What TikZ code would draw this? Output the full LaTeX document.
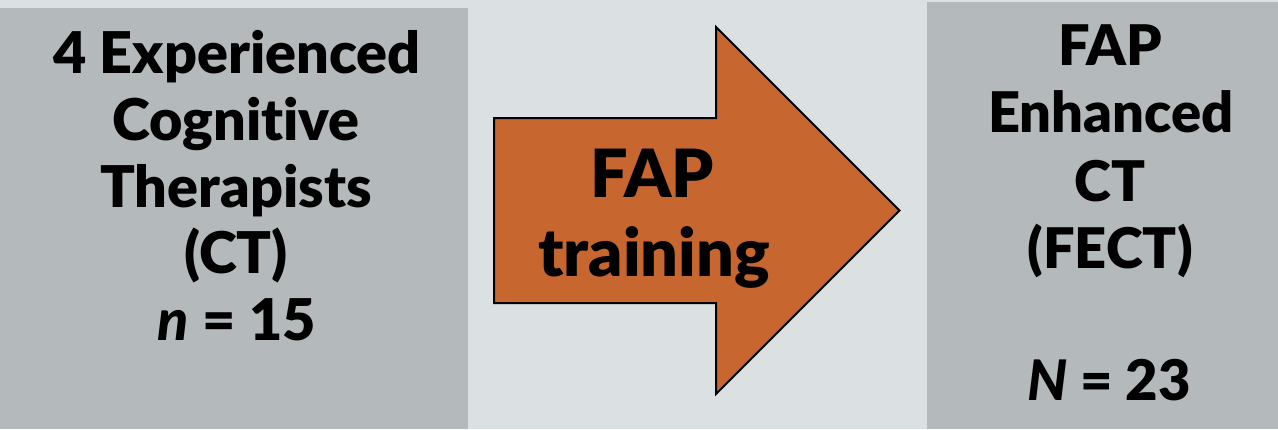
\documentclass[tikz,border=0pt]{standalone}
\usepackage{fontspec}
\IfFontExistsTF{Lato Black}
  {\setmainfont{Lato}[Ligatures={NoCommon},BoldFont={Lato Black},BoldItalicFont={Lato Black Italic}]}
  {\setmainfont{Lato}[Ligatures={NoCommon}]}
\definecolor{bgc}{HTML}{DBE0E2}
\definecolor{boxc}{HTML}{B4BABB}
\definecolor{arrc}{HTML}{C7672F}
\begin{document}
\begin{tikzpicture}[x=1pt,y=-1pt,
  panel/.style={fill=boxc,draw=none},
  lefttxt/.style={anchor=base,inner sep=0pt,font=\fontsize{57.5}{66}\selectfont\bfseries},
  righttxt/.style={anchor=base,inner sep=0pt,font=\fontsize{56}{66}\selectfont\bfseries},
  arrtxt/.style={anchor=base,inner sep=0pt,font=\fontsize{66.5}{78}\selectfont\bfseries},
  bigarrow/.style={fill=arrc,draw=black,line width=2pt,line join=miter}]
\fill[bgc] (0,0) rectangle (1278,429);
\useasboundingbox (0,0) rectangle (1278,429);
\fill[panel] (0,8) rectangle (468,429);
\fill[panel] (927,2) rectangle (1278,429);
\draw[bigarrow] (494,118) -- (716,118) -- (716,27) -- (899.5,210.5) -- (716,394) -- (716,303) -- (494,303) -- cycle;
\node[lefttxt] (l1) at (237,73) {4 Experienced};
\node[lefttxt] (l2) at (236,140) {Cognitive};
\node[lefttxt] (l3) at (236,207) {Therapists};
\node[lefttxt] (l4) at (236,273) {(CT)};
\node[lefttxt] (l5) at (237,340) {\itshape n\upshape{} = 15};
\node[arrtxt] (a1) at (652,197) {FAP};
\node[arrtxt] (a2) at (654,276) {training};
\node[righttxt] (r1) at (1110,65) {FAP};
\node[righttxt] (r2) at (1111,132) {Enhanced};
\node[righttxt] (r3) at (1110,201) {CT};
\node[righttxt] (r4) at (1110,268) {(FECT)};
\node[righttxt] (r5) at (1109,400) {\itshape N\upshape{} = 23};
\end{tikzpicture}
\end{document}
